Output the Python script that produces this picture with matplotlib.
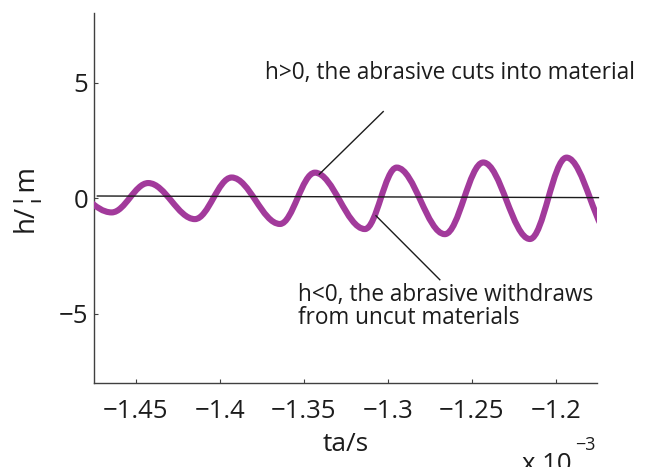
import matplotlib
matplotlib.use("Agg")
import matplotlib.pyplot as plt
from matplotlib.path import Path
from matplotlib.patches import PathPatch
from matplotlib.ticker import FixedLocator, FuncFormatter

# extrema of the wave (t in units of 1e-3 s, h in um)
# first and last points lie just outside the axes and get clipped
ext_t = [-1.4925, -1.4645, -1.4427, -1.4149, -1.3930, -1.3642, -1.3434,
         -1.3136, -1.2947, -1.2660, -1.2431, -1.2153, -1.1935, -1.1655]
ext_h = [0.45, -0.61, 0.66, -0.90, 0.90, -1.11, 1.11,
         -1.33, 1.33, -1.55, 1.55, -1.76, 1.76, -1.75]

# near-zero reference line
ref_t = [-1.473, -1.1745]
ref_h = [0.10, 0.03]

x_ticks = [-1.45, -1.4, -1.35, -1.3, -1.25, -1.2]
y_ticks = [-5, 0, 5]

# annotation leaders and texts
pos_line_t = [-1.3408, -1.3027]
pos_line_h = [1.04, 3.75]
neg_line_t = [-1.3070, -1.2690]
neg_line_h = [-0.755, -3.52]
pos_text = "h>0, the abrasive cuts into material"
neg_text = "h<0, the abrasive withdraws\nfrom uncut materials"

WAVE = "#a23a9b"
INK = "#1c1c1c"
SPINE = "#404040"

plt.rcParams['font.family'] = ['Open Sans', 'DejaVu Sans']

fig = plt.figure(figsize=(6.46, 4.67), dpi=100)
ax = fig.add_axes([0.1455, 0.1792, 0.778, 0.7923])

# smooth wave: cubic segments between extrema with flat tangents
k = 0.3634
verts = [(ext_t[0], ext_h[0])]
codes = [Path.MOVETO]
for i in range(len(ext_t) - 1):
    t0, h0, t1, h1 = ext_t[i], ext_h[i], ext_t[i + 1], ext_h[i + 1]
    d = t1 - t0
    verts += [(t0 + k * d, h0), (t1 - k * d, h1), (t1, h1)]
    codes += [Path.CURVE4] * 3
wave = PathPatch(Path(verts, codes), facecolor='none', edgecolor=WAVE,
                 lw=4.4, capstyle='butt', joinstyle='round', zorder=3)
ax.add_patch(wave)

ax.plot(ref_t, ref_h, color=INK, lw=1.0, zorder=4, clip_on=False)
ax.plot(pos_line_t, pos_line_h, color=INK, lw=1.0, zorder=4)
ax.plot(neg_line_t, neg_line_h, color=INK, lw=1.0, zorder=4)

ax.text(-1.3732, 5.16, pos_text, fontsize=16.3, color=INK, va='baseline')
ax.text(-1.3533, -5.42, neg_text, fontsize=16.3, color=INK, va='baseline',
        linespacing=0.95)

ax.set_xlim(-1.4750, -1.1756)
ax.set_ylim(-8, 8)

ax.xaxis.set_major_locator(FixedLocator(x_ticks))
ax.yaxis.set_major_locator(FixedLocator(y_ticks))
fmt = FuncFormatter(lambda v, p: ("%g" % v).replace("-", "\u2212"))
ax.xaxis.set_major_formatter(fmt)
ax.yaxis.set_major_formatter(fmt)

for s in ['top', 'right']:
    ax.spines[s].set_visible(False)
for s in ['left', 'bottom']:
    ax.spines[s].set_color(SPINE)
    ax.spines[s].set_linewidth(1.0)

ax.tick_params(axis='both', direction='in', length=3, width=0.8,
               color=SPINE, labelsize=18.5, labelcolor=INK)
ax.tick_params(axis='x', pad=11)
ax.tick_params(axis='y', pad=4)

ax.set_xlabel("ta/s", fontsize=19, color=INK, labelpad=6)
ax.set_ylabel("h/\u00a6m", fontsize=20, color=INK, labelpad=14)

fig.text(521.7 / 646, -0.008, "x 10", fontsize=18.5, color=INK,
         va='baseline', ha='left')
fig.text(575 / 646, 17 / 467, "\u22123", fontsize=13, color=INK,
         va='baseline', ha='left')

fig.savefig("out.png", dpi=100)
